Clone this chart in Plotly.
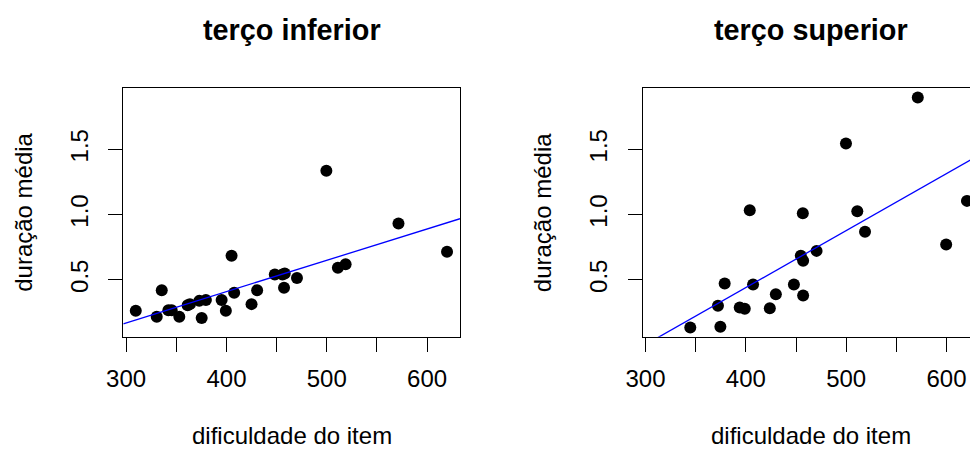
import numpy as np
import plotly.graph_objects as go

# Item difficulty vs. mean duration, lower and upper thirds
difficulty_low = [309.6, 330.5, 335.5, 342.1, 345.4, 353.0, 361.3, 363.6, 372.9,
                  375.3, 379.5, 395.2, 399.4, 405.1, 407.7, 425.0, 430.6, 448.2,
                  455.8, 458.1, 457.4, 470.3, 499.6, 511.1, 518.8, 571.5, 619.9]
duration_low = [0.263, 0.217, 0.421, 0.268, 0.268, 0.217, 0.306, 0.314, 0.339,
                0.207, 0.345, 0.345, 0.263, 0.684, 0.401, 0.314, 0.421, 0.541,
                0.541, 0.549, 0.439, 0.515, 1.335, 0.592, 0.620, 0.932, 0.715]

difficulty_high = [344.6, 374.6, 372.2, 378.9, 393.9, 398.9, 403.9, 407.2, 423.9,
                   429.9, 447.9, 454.8, 457.1, 457.1, 456.8, 470.5, 499.8, 511.1,
                   518.8, 571.4, 599.7, 620.4]
duration_high = [0.135, 0.140, 0.301, 0.472, 0.289, 0.278, 1.034, 0.464, 0.283,
                 0.390, 0.464, 0.684, 0.646, 0.380, 1.011, 0.722, 1.544, 1.026,
                 0.868, 1.897, 0.771, 1.105]

panel_titles = ["terço inferior", "terço superior"]
x_label = "dificuldade do item"
y_label = "duração média"
x_ticks = [300, 350, 400, 450, 500, 550, 600]
x_ticktext = ["300", "", "400", "", "500", "", "600"]
y_ticks = [0.5, 1.0, 1.5]
y_ticktext = ["0.5", "1.0", "1.5"]

W, H = 970, 450
FONT = "Liberation Sans, Arial, Helvetica, sans-serif"


def padded(lo, hi, frac=0.04):
    span = hi - lo
    return [lo - frac * span, hi + frac * span]


all_x = difficulty_low + difficulty_high
all_y = duration_low + duration_high
xlim = padded(min(all_x), max(all_x))
ylim = padded(min(all_y), max(all_y))

# plot regions in pixels (left, right, top, bottom)
box_w = 336.7
panels = [
    dict(l=123.3, r=123.3 + box_w, t=88.3, b=336.7),
    dict(l=642.7, r=W, t=88.3, b=336.7),
]

fig = go.Figure()

series = [(difficulty_low, duration_low), (difficulty_high, duration_high)]
for i, (xs, ys) in enumerate(series):
    ax = "" if i == 0 else "2"
    fig.add_trace(go.Scatter(
        x=xs, y=ys, mode="markers",
        marker=dict(color="black", size=12, line=dict(width=0)),
        xaxis="x" + ax, yaxis="y" + ax, showlegend=False, hoverinfo="x+y",
    ))
    slope, intercept = np.polyfit(np.array(xs), np.array(ys), 1)
    lx = np.array(xlim)
    fig.add_trace(go.Scatter(
        x=lx, y=intercept + slope * lx, mode="lines",
        line=dict(color="#0000ff", width=1.3),
        xaxis="x" + ax, yaxis="y" + ax, showlegend=False, hoverinfo="skip",
    ))

axis_common = dict(
    showgrid=False, zeroline=False, showline=True, linecolor="black",
    linewidth=1.3, ticks="outside", ticklen=14, tickwidth=1.3,
    tickcolor="black", tickfont=dict(family=FONT, size=24, color="black"),
    automargin=False,
)

layout = dict(
    template="none",
    width=W, height=H, margin=dict(l=0, r=0, t=0, b=0, pad=0),
    paper_bgcolor="white", plot_bgcolor="white",
    font=dict(family=FONT, color="black"),
    showlegend=False, annotations=[],
)

for i, p in enumerate(panels):
    ax = "" if i == 0 else "2"
    xdom = [p["l"] / W, p["r"] / W]
    ydom = [(H - p["b"]) / H, (H - p["t"]) / H]
    if i == 0:
        xrange = xlim
    else:
        visible = (p["r"] - p["l"]) / box_w
        xrange = [xlim[0], xlim[0] + (xlim[1] - xlim[0]) * visible]
    layout["xaxis" + ax] = dict(
        axis_common, domain=xdom, range=xrange, mirror=True,
        tickvals=x_ticks, ticktext=x_ticktext, anchor="y" + ax,
        ticklabelstandoff=6,
    )
    layout["yaxis" + ax] = dict(
        axis_common, domain=ydom, range=ylim, mirror=(i == 0),
        tickvals=y_ticks, ticktext=y_ticktext, tickangle=-90,
        anchor="x" + ax, ticklabelstandoff=11,
    )
    cx = (p["l"] + p["l"] + box_w) / 2
    layout["annotations"] += [
        dict(text="<b>" + panel_titles[i] + "</b>", x=cx / W, y=1 - 30 / H,
             xref="paper", yref="paper", xanchor="center", yanchor="middle",
             showarrow=False, font=dict(family=FONT, size=28.8, color="black")),
        dict(text=x_label, x=cx / W, y=1 - 435 / H,
             xref="paper", yref="paper", xanchor="center", yanchor="middle",
             showarrow=False, font=dict(family=FONT, size=24, color="black")),
        dict(text=y_label, x=(p["l"] - 100) / W, y=1 - (p["t"] + p["b"]) / 2 / H,
             xref="paper", yref="paper", xanchor="center", yanchor="middle",
             textangle=-90, showarrow=False,
             font=dict(family=FONT, size=24, color="black")),
    ]

fig.update_layout(**layout)
fig.write_html("out.html")
